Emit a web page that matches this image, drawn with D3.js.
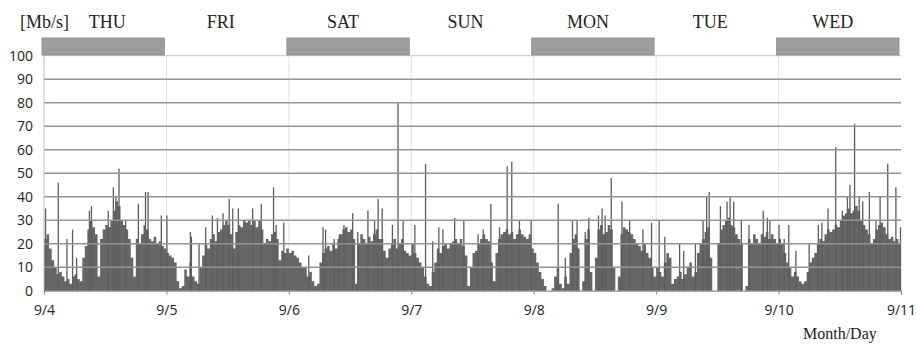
<!DOCTYPE html>
<html>
<head>
<meta charset="utf-8">
<script src="https://cdn.jsdelivr.net/npm/d3@7/dist/d3.min.js"></script>
<style>
  body { margin: 0; background: #fff; }
</style>
</head>
<body>
<svg id="chart"></svg>
<script>
// weekly link traffic, one value per half hour plus the short bursts above it
const dayNames = ['THU', 'FRI', 'SAT', 'SUN', 'MON', 'TUE', 'WED'];
const dateTicks = ['9/4', '9/5', '9/6', '9/7', '9/8', '9/9', '9/10', '9/11'];
const shadedDays = [0, 2, 4, 6];
const yTicks = [0, 10, 20, 30, 40, 50, 60, 70, 80, 90, 100];

// half-hour levels [Mb/s], 48 per day
const traffic94 = [22,24,18,13,10,7,8,6,4,5,3,6,7,5,4,14,19,26,30,27,24,6,22,26,28,27,30,34,38,36,30,28,26,22,14,6,22,20,24,28,26,22,21,23,20,21,19,18];
const traffic95 = [16,15,14,12,4,1,2,9,6,12,6,4,3,10,15,20,18,22,24,21,25,26,28,30,28,24,18,25,28,27,30,29,30,28,30,27,30,26,20,22,21,24,25,22,13,17,16,18];
const traffic96 = [16,17,15,14,12,10,10,6,8,4,2,3,12,16,18,19,17,20,18,22,24,26,27,25,26,22,3,20,24,22,20,23,21,24,26,22,22,17,14,18,20,22,18,20,22,17,16,15];
const traffic97 = [20,16,14,12,10,6,3,2,8,12,18,16,19,20,18,20,21,22,20,22,19,15,2,10,16,17,20,22,24,22,21,12,4,16,22,24,25,26,24,25,22,24,26,24,23,22,24,18];
const traffic98 = [16,12,8,5,2,0,0,1,6,10,3,1,6,3,16,22,24,18,0,4,22,26,8,0,14,26,28,24,25,28,26,10,0,6,24,27,26,25,24,22,20,19,17,20,16,14,10,6];
const traffic99 = [10,8,6,12,16,14,3,5,6,8,5,7,10,12,6,8,16,20,22,25,27,14,0,0,20,26,28,30,31,28,27,24,22,20,0,2,22,20,24,22,20,24,23,25,22,24,22,20];
const traffic910 = [22,20,16,12,10,6,8,6,4,3,4,8,12,14,16,20,22,21,24,26,25,26,28,27,30,32,33,35,33,34,36,34,30,28,26,24,20,22,26,28,29,27,24,22,23,21,22,20];

// bursts: [hour of day, Mb/s]
const peaks94 = [[0.3,35],[2.8,46],[4.5,22],[5.6,26],[6.4,14],[8.9,34],[9.3,36],[12.6,34],[13.6,44],[14.1,40],[14.7,52],[16.0,30],[18.5,37],[19.9,42],[20.4,42],[23.0,32]];
const peaks95 = [[0.1,32],[4.7,25],[4.9,23],[6.4,20],[7.7,27],[9.0,32],[10.0,31],[11.1,33],[12.3,39],[13.0,35],[14.1,35],[16.9,35],[18.6,37],[21.0,44],[21.5,28],[23.0,29]];
const peaks96 = [[3.9,15],[6.7,27],[7.2,26],[8.9,22],[9.9,24],[10.8,28],[12.5,33],[13.5,25],[15.5,34],[16.8,30],[17.5,39],[18.3,35],[20.3,28],[21.4,80],[22.4,30]];
const peaks97 = [[0.7,28],[2.8,54],[4.2,21],[5.4,27],[6.2,26],[8.5,31],[10.3,30],[13.1,24],[14.1,26],[15.6,37],[17.3,27],[18.8,53],[19.7,55],[21.2,30],[23.5,30]];
const peaks98 = [[4.8,37],[6.2,14],[7.6,30],[8.5,30],[10.1,25],[10.8,31],[12.7,32],[13.4,35],[14.0,32],[15.2,48],[17.3,38],[18.8,30],[21.4,26],[23.1,29]];
const peaks99 = [[0.6,30],[1.7,23],[4.6,20],[5.4,17],[7.7,20],[9.2,30],[9.9,40],[10.4,42],[12.6,36],[13.9,38],[14.5,40],[15.2,38],[16.7,30],[18.2,28],[21.0,34],[21.8,31],[22.3,30]];
const peaks910 = [[0.1,28],[1.1,22],[2.0,28],[3.4,17],[6.0,20],[7.8,28],[8.5,29],[9.7,35],[11.2,61],[12.5,34],[13.5,40],[14.0,45],[14.9,71],[15.8,40],[16.5,38],[17.8,42],[19.1,30],[19.9,40],[21.4,54],[23.0,44],[23.9,27]];

const levelsByDay = [traffic94, traffic95, traffic96, traffic97, traffic98, traffic99, traffic910];
const peaksByDay = [peaks94, peaks95, peaks96, peaks97, peaks98, peaks99, peaks910];

const levels = [];
levelsByDay.forEach((arr, d) => arr.forEach((v, i) => levels.push({ h: d * 24 + i * 0.5, v })));
// close the last step at the right edge
levels.push({ h: 168, v: levels[levels.length - 1].v });
const peaks = [];
peaksByDay.forEach((arr, d) => arr.forEach(p => peaks.push({ h: d * 24 + p[0], v: p[1] })));

const width = 916, height = 345;
const margin = { top: 55.7, right: 15, bottom: 54.3, left: 44 };

const svg = d3.select('#chart')
  .attr('width', width)
  .attr('height', height)
  .style('font-family', '"Open Sans", sans-serif');

const x = d3.scaleLinear().domain([0, 168]).range([margin.left, width - margin.right]);
const y = d3.scaleLinear().domain([0, 100]).range([height - margin.bottom, margin.top]);
const dayTicks = dateTicks.map((_, i) => i * 24);

// faint day separators
svg.append('g')
  .selectAll('line')
  .data(dayTicks.slice(1, -1))
  .enter().append('line')
  .attr('x1', d => x(d)).attr('x2', d => x(d))
  .attr('y1', y(100)).attr('y2', y(0))
  .attr('stroke', '#e2e2e2');

// traffic levels as a stepped area
const area = d3.area()
  .x(d => x(d.h))
  .y0(y(0))
  .y1(d => y(d.v))
  .curve(d3.curveStepAfter);

svg.append('path')
  .datum(levels)
  .attr('d', area)
  .attr('fill', '#666');

// bursts
svg.append('g')
  .selectAll('line')
  .data(peaks)
  .enter().append('line')
  .attr('x1', d => x(d.h)).attr('x2', d => x(d.h))
  .attr('y1', y(0)).attr('y2', d => y(d.v))
  .attr('stroke', '#5c5c5c')
  .attr('stroke-width', 1.3);

// horizontal grid, drawn over the data like the original
svg.append('g')
  .selectAll('line')
  .data(yTicks.filter(t => t > 0))
  .enter().append('line')
  .attr('x1', x(0)).attr('x2', x(168))
  .attr('y1', d => y(d)).attr('y2', d => y(d))
  .attr('stroke', d => d === 100 ? '#c4c4c4' : '#939393')
  .attr('stroke-width', d => d === 100 ? 1 : 1.4);

// y axis
const yAxis = svg.append('g')
  .attr('transform', `translate(${x(0)},0)`)
  .call(d3.axisLeft(y).tickValues(yTicks).tickSize(0).tickPadding(11));
yAxis.select('.domain').remove();
yAxis.append('line')
  .attr('y1', y(0)).attr('y2', y(100) - 1)
  .attr('stroke', '#bdbdbd');
yAxis.selectAll('text')
  .attr('fill', '#222')
  .style('font-size', '14px')
  .style('font-family', '"Open Sans", sans-serif');

// x axis
const xAxis = svg.append('g')
  .attr('transform', `translate(0,${y(0)})`)
  .call(d3.axisBottom(x).tickValues(dayTicks).tickFormat((d, i) => dateTicks[i]).tickSize(4).tickPadding(10));
xAxis.select('.domain').attr('stroke', '#8a8a8a').attr('stroke-width', 1.2);
xAxis.selectAll('.tick line').attr('stroke', '#8a8a8a');
xAxis.selectAll('text')
  .attr('fill', '#222')
  .style('font-size', '14px')
  .style('font-family', '"Open Sans", sans-serif');

// day band on top
svg.append('g')
  .selectAll('rect')
  .data(shadedDays)
  .enter().append('rect')
  .attr('x', d => x(d * 24) - 2)
  .attr('y', 38)
  .attr('width', x(24) - x(0))
  .attr('height', 17)
  .attr('fill', '#9d9d9d')
  .attr('stroke', '#8c8c8c')
  .attr('stroke-width', 0.8);

const serif = '"Liberation Serif", "Times New Roman", serif';
svg.append('g')
  .selectAll('text')
  .data(dayNames)
  .enter().append('text')
  .attr('x', (d, i) => x(i * 24 + 12) + (i === 0 ? 2 : -7))
  .attr('y', 28)
  .attr('text-anchor', 'middle')
  .attr('fill', '#222')
  .style('font-family', serif)
  .style('font-size', '18px')
  .text(d => d);

svg.append('text')
  .attr('x', 20).attr('y', 28)
  .attr('fill', '#222')
  .style('font-family', serif)
  .style('font-size', '18px')
  .text('[Mb/s]');

svg.append('text')
  .attr('x', 803).attr('y', 339)
  .attr('fill', '#222')
  .style('font-family', serif)
  .style('font-size', '16px')
  .text('Month/Day');
</script>
</body>
</html>
